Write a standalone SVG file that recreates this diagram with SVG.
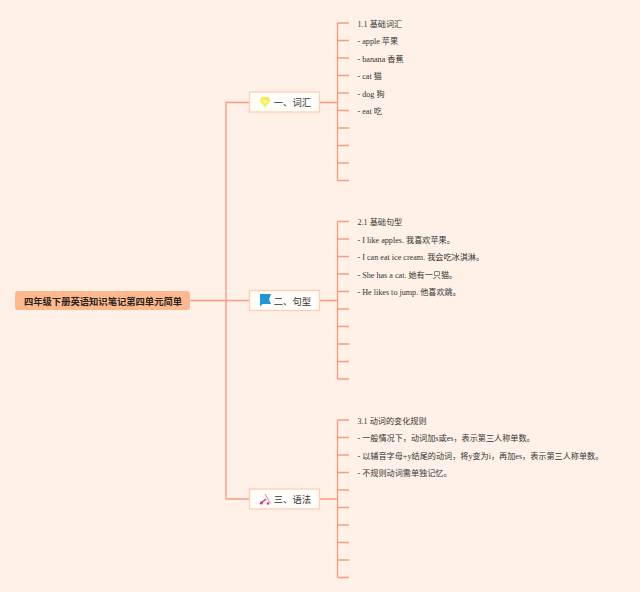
<svg xmlns="http://www.w3.org/2000/svg" width="640" height="592" viewBox="0 0 640 592">
<style>
.c{fill:none;stroke:#fb9a7f;stroke-width:1.3}
.b{fill:#fffdfa;stroke:#fdcfae;stroke-width:1.3}
text{font-family:"Liberation Serif","Noto Sans CJK SC",serif;fill:#333}
.l{font-size:8.15px}
.n{font-size:9.3px;font-family:"Liberation Sans","Noto Sans CJK SC",sans-serif}
.r{font-size:9.3px;font-weight:700;font-family:"Liberation Sans","Noto Sans CJK SC",sans-serif;fill:#2b2420}
</style>
<rect width="640" height="592" fill="#fff1e7"/>
<g id="connectors">
<path class="c" d="M190 300.500H249M226 300.500V102.500H249M226 300.500V499H249"/>
<path class="c" d="M320 102.500H337.500M337.500 23H349M337.500 40.500H349M337.500 58H349M337.500 75.500H349M337.500 93H349M337.500 110.500H349M337.500 128H349M337.500 145.500H349M337.500 163H349M337.500 180.500H349M337.500 23V180.500"/>
<path class="c" d="M320 300.500H337.500M337.500 221.500H349M337.500 239H349M337.500 256.500H349M337.500 274H349M337.500 291.500H349M337.500 309H349M337.500 326.500H349M337.500 344H349M337.500 361.500H349M337.500 379H349M337.500 221.500V379"/>
<path class="c" d="M320 499H337.500M337.500 420H349M337.500 437.500H349M337.500 455H349M337.500 472.500H349M337.500 490H349M337.500 507.500H349M337.500 525H349M337.500 542.500H349M337.500 560H349M337.500 577.500H349M337.500 420V577.500"/>
</g>
<g id="root"><rect x="15" y="291" width="175" height="19" rx="3" fill="#fdb88d"/><text class="r" x="103" y="304.500" text-anchor="middle">四年级下册英语知识笔记第四单元简单</text></g>
<g id="n1"><rect class="b" x="249.500" y="92" width="70" height="20"/>
<path d="M261.500 97H268.500L270.500 100.500L265 107.500L259.500 100.500Z" fill="#f4ee55"/><path d="M262.500 100.500H267.500L265 104Z" fill="#fbf9b0"/>
<text class="n" x="273.800" y="106.300">一、词汇</text></g>
<g id="n2"><rect class="b" x="249.500" y="290.500" width="70" height="20"/>
<path d="M260 294H271L269 299.500L271 304H262.500L260 306.500Z" fill="#1e96d8"/>
<text class="n" x="273.800" y="304.800">二、句型</text></g>
<g id="n3"><rect class="b" x="249.500" y="489" width="70" height="20"/>
<path d="M265 494L270.500 503.500" stroke="#d9a0b0" stroke-width="1.2" fill="none"/><path d="M266 499L260 504" stroke="#d9326a" stroke-width="1.6" fill="none"/><circle cx="261.500" cy="503" r="1.400" fill="#d9326a"/><circle cx="268" cy="503.500" r="1.200" fill="#d9326a"/>
<text class="n" x="273.800" y="503.300">三、语法</text></g>
<g id="leaves1">
<text class="l" x="357.500" y="26.800">1.1 基础词汇</text>
<text class="l" x="357.500" y="44.300">- apple 苹果</text>
<text class="l" x="357.500" y="61.800">- banana 香蕉</text>
<text class="l" x="357.500" y="79.300">- cat 猫</text>
<text class="l" x="357.500" y="96.800">- dog 狗</text>
<text class="l" x="357.500" y="114.300">- eat 吃</text>
</g>
<g id="leaves2">
<text class="l" x="357.500" y="225.300">2.1 基础句型</text>
<text class="l" x="357.500" y="242.800">- I like apples. 我喜欢苹果。</text>
<text class="l" x="357.500" y="260.300">- I can eat ice cream. 我会吃冰淇淋。</text>
<text class="l" x="357.500" y="277.800">- She has a cat. 她有一只猫。</text>
<text class="l" x="357.500" y="295.300">- He likes to jump. 他喜欢跳。</text>
</g>
<g id="leaves3">
<text class="l" x="357.500" y="423.800">3.1 动词的变化规则</text>
<text class="l" x="357.500" y="441.300">- 一般情况下，动词加s或es，表示第三人称单数。</text>
<text class="l" x="357.500" y="458.800">- 以辅音字母+y结尾的动词，将y变为i，再加es，表示第三人称单数。</text>
<text class="l" x="357.500" y="476.300">- 不规则动词需单独记忆。</text>
</g>
</svg>
